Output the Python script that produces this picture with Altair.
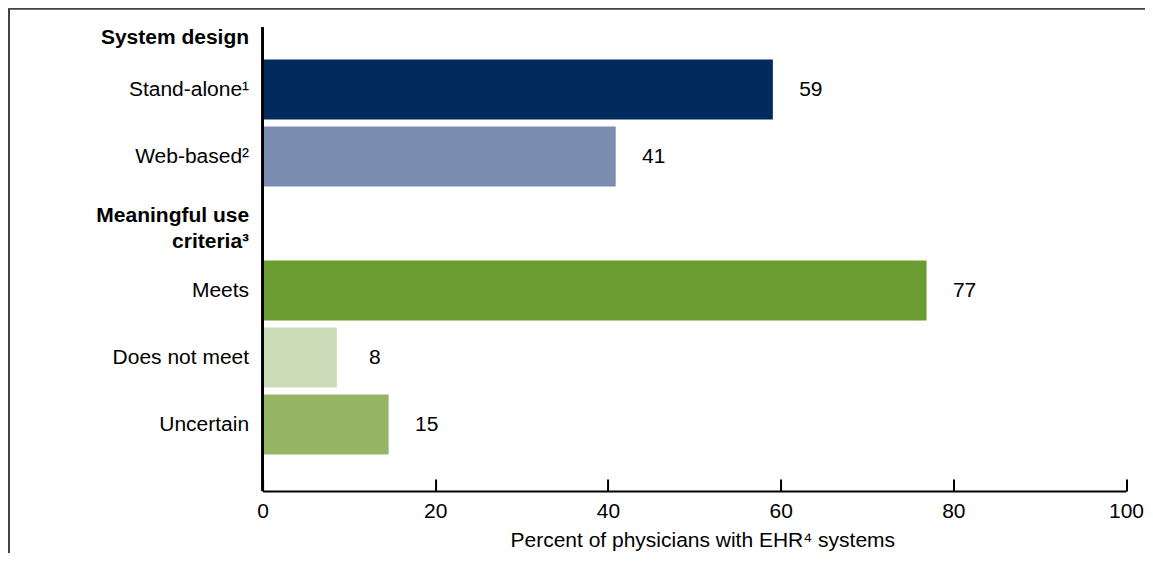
import altair as alt
import pandas as pd

# Row labels (including section headers) in display order
rows = ["System design", "Stand-alone¹", "Web-based²", "Meaningful use criteria³",
        "Meets", "Does not meet", "Uncertain"]

# Data rows
categories = ["Stand-alone¹", "Web-based²", "Meets", "Does not meet", "Uncertain"]
values = [59.1, 40.9, 76.9, 8.6, 14.6]
labels = ["59", "41", "77", "8", "15"]
colors = ["#002B5C", "#7B8DB0", "#6B9C31", "#CCDBB8", "#95B565"]
x_ticks = [0, 20, 40, 60, 80, 100]

df = pd.DataFrame({"cat": categories, "value": values, "label": labels})

FONT = "Liberation Sans"
FS = 21
W, H = 863.5, 464

yscale = alt.Scale(domain=rows, range=[-38, 431], paddingInner=0.1045, paddingOuter=0.052)

x_axis = alt.Axis(
    values=x_ticks, grid=False, domainColor="black", domainWidth=2,
    tickColor="black", tickWidth=2, tickSize=alt.ExprRef(expr="-12"),
    labelFont=FONT, labelFontSize=FS, labelColor="black", labelPadding=22,
    labelFlush=False,
    title="Percent of physicians with EHR⁴ systems", titleFont=FONT,
    titleFontSize=FS, titleFontWeight="normal", titleColor="black",
    titlePadding=8, titleX=W / 2 + 8,
)

y_axis = alt.Axis(
    domain=False, ticks=False, grid=False, title=None,
    labelFont=FONT, labelFontSize=FS, labelColor="black", labelPadding=14,
    labelLimit=400, labelLineHeight=27,
    labelFontWeight={"condition": {"test": "datum.value == 'System design' || datum.value == 'Meaningful use criteria³'", "value": "bold"}, "value": "normal"},
    labelOffset={"condition": {"test": "datum.value == 'System design'", "value": 15}, "value": {"expr": "0"}} if False else
    {"condition": [{"test": "datum.value == 'System design'", "value": 15},
                   {"test": "datum.value == 'Meaningful use criteria³'", "value": -8}], "value": 0},
    labelExpr="datum.value == 'Meaningful use criteria³' ? ['Meaningful use', 'criteria³'] : datum.label",
)

xscale = alt.Scale(domain=[0, 100], nice=False)

bars = alt.Chart(df).mark_bar().encode(
    x=alt.X("value:Q", scale=xscale, axis=x_axis),
    y=alt.Y("cat:N", scale=yscale, axis=y_axis, sort=rows),
    color=alt.Color("cat:N", scale=alt.Scale(domain=categories, range=colors), legend=None),
)

text = alt.Chart(df).mark_text(align="center", baseline="middle", dx=38,
                               font=FONT, fontSize=FS, color="black").encode(
    x=alt.X("value:Q", scale=xscale),
    y=alt.Y("cat:N", scale=yscale, sort=rows),
    text="label:N",
)

yline = alt.Chart(df).mark_rule(color="black", strokeWidth=2).encode(
    x=alt.X("zero:Q", scale=xscale)
).transform_calculate(zero="0")

frame_top = alt.Chart(df).mark_rule(color="#444444", strokeWidth=1.5).encode(
    x=alt.value(-253.6), x2=alt.value(900), y=alt.value(-18.5)
)
frame_left = alt.Chart(df).mark_rule(color="#444444", strokeWidth=1.5).encode(
    x=alt.value(-253.6), y=alt.value(-18.5), y2=alt.value(540)
)

chart = alt.layer(frame_top, frame_left, bars, text, yline).properties(
    width=W, height=H,
    autosize=alt.AutoSizeParams(type="none"),
    padding={"left": 254.6, "top": 19, "right": 19, "bottom": 62},
).configure(background="white").configure_view(stroke=None)

chart.save("out.html", embed_options={"renderer": "svg", "actions": False})
